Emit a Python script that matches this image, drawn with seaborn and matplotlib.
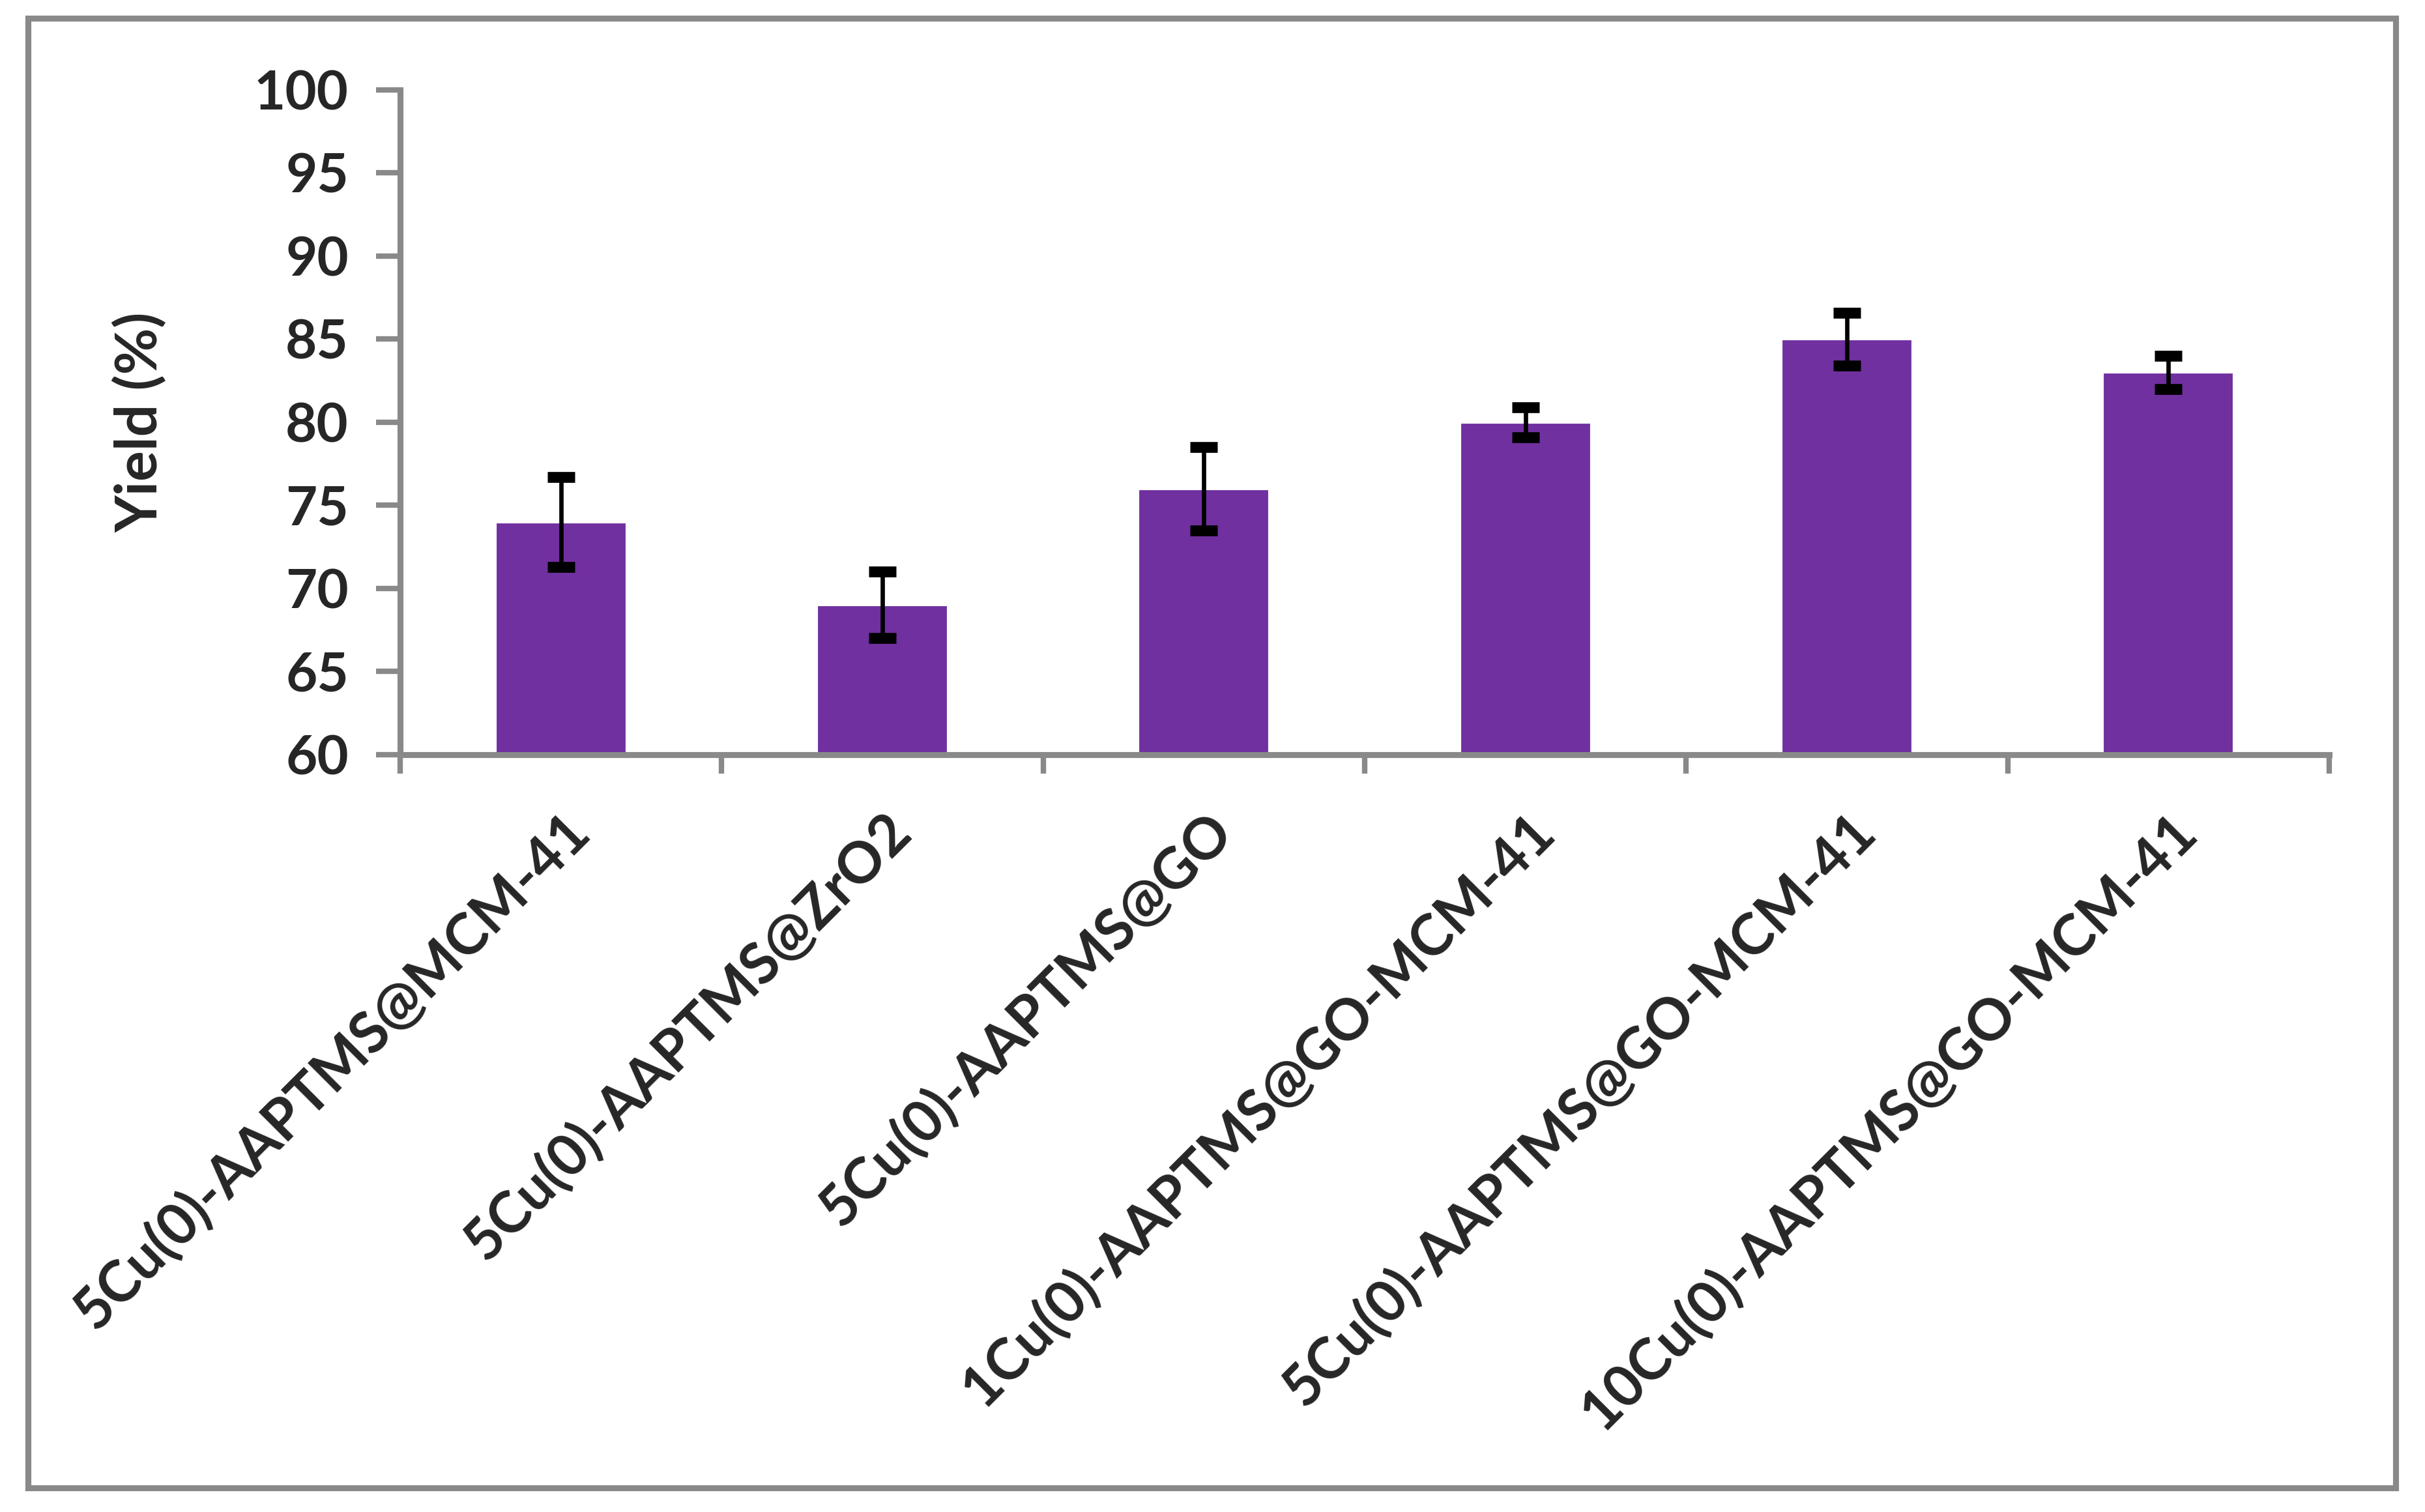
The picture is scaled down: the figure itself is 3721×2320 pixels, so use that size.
import matplotlib
matplotlib.use('Agg')
import matplotlib.pyplot as plt
import matplotlib.patches as mpatches
import matplotlib.transforms as mtransforms
import pandas as pd
import seaborn as sns

# catalyst names and yields (with error bars)
catalysts = [
    '5Cu(0)-AAPTMS@MCM-41',
    '5Cu(0)-AAPTMS@ZrO2',
    '5Cu(0)-AAPTMS@GO',
    '1Cu(0)-AAPTMS@GO-MCM-41',
    '5Cu(0)-AAPTMS@GO-MCM-41',
    '10Cu(0)-AAPTMS@GO-MCM-41',
]
yields = [74, 69, 76, 80, 85, 83]
errors = [2.7, 2.0, 2.5, 0.9, 1.6, 1.0]
y_ticks = [60, 65, 70, 75, 80, 85, 90, 95, 100]

df = pd.DataFrame({'Catalyst': catalysts, 'Yield': yields, 'Err': errors})

sns.set_style('white')
plt.rcParams['font.family'] = ['Lato', 'DejaVu Sans']
plt.rcParams['font.weight'] = 'bold'

grey = '#898989'
purple = '#7030A0'

fig = plt.figure(figsize=(3721 / 300, 2320 / 300), dpi=300)
ax = fig.add_axes([0.165, 0.501, 0.7955, 0.4395])

sns.barplot(x='Catalyst', y='Yield', data=df, color=purple, width=0.41,
            errorbar=None, saturation=1, ax=ax)

# error bars centred on each bar
xs = [p.get_x() + p.get_width() / 2 for p in ax.patches]
ax.errorbar(xs, df['Yield'], yerr=df['Err'], fmt='none', ecolor='black',
            elinewidth=1.6, capsize=5, capthick=4)

ax.set_ylim(60, 100)
ax.set_yticks(y_ticks)
ax.set_xlim(-0.5, len(catalysts) - 0.5)

# category labels at the centres, tick marks between categories
ax.set_xticks(range(len(catalysts)))
ax.set_xticklabels(catalysts, rotation=45, ha='right', rotation_mode='anchor',
                   fontsize=21, fontweight='bold')
shift = mtransforms.ScaledTranslation(-4 / 72, 0, fig.dpi_scale_trans)
for lab in ax.get_xticklabels():
    lab.set_transform(lab.get_transform() + shift)
ax.set_xticks([i - 0.5 for i in range(len(catalysts) + 1)], minor=True)
ax.tick_params(axis='x', which='major', bottom=True, length=0, pad=18)
ax.tick_params(axis='x', which='minor', bottom=True, length=7, width=2,
               color=grey, direction='out')
ax.tick_params(axis='y', left=True, length=9, width=2, color=grey, direction='out',
               labelsize=20, pad=10)
for lab in ax.get_yticklabels():
    lab.set_fontweight('bold')

ax.set_xlabel('')
ax.set_ylabel('Yield (%)', fontsize=21, fontweight='bold', labelpad=32)

sns.despine(ax=ax)
for side in ['left', 'bottom']:
    ax.spines[side].set_color(grey)
    ax.spines[side].set_linewidth(2.2)

# grey frame around the whole chart
frame = mpatches.Rectangle((0.0116, 0.016), 0.9764, 0.9719, transform=fig.transFigure,
                           fill=False, edgecolor=grey, linewidth=2.2)
fig.patches.append(frame)

fig.savefig('out.png', dpi=300, facecolor='white')
